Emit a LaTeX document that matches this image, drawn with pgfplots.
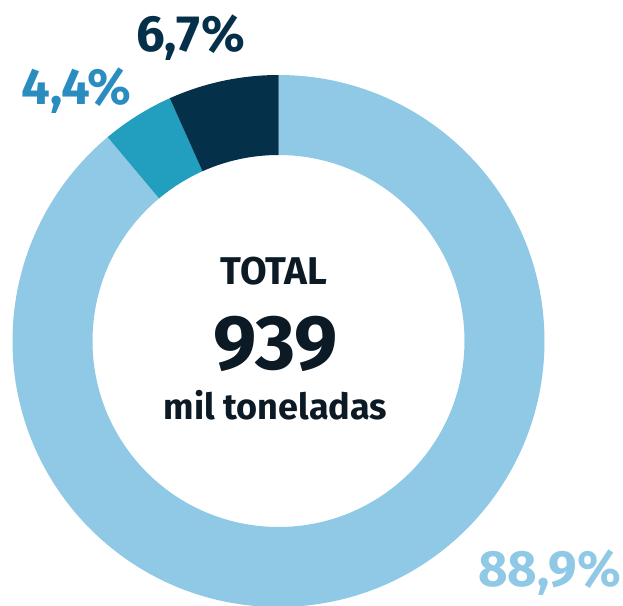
\documentclass[border=0pt]{standalone}
\usepackage{fontspec}
\setmainfont{Fira Sans}
\usepackage{pgfplots}
\pgfplotsset{compat=1.18}

\definecolor{light}{HTML}{8FC9E5}
\definecolor{mid}{HTML}{229FBE}
\definecolor{navy}{HTML}{053049}
\definecolor{midlabel}{HTML}{2B8DBF}
\definecolor{dark}{HTML}{0B1A24}

% ring geometry in picture pixels
\def\cx{278.5}
\def\cy{265}
\def\Ro{266}
\def\Ri{186}

\begin{document}
\begin{tikzpicture}
\begin{axis}[
    x=0.02cm, y=0.02cm,
    xmin=0, xmax=623, ymin=0, ymax=606,
    hide axis, clip=true,
    disabledatascaling,
]
\path[draw=none] (axis cs:0,0) rectangle (axis cs:623,606);
\def\astart{90}
% share (percent) / colour, clockwise from the top
\pgfplotsforeachungrouped \v/\c in {88.9/light, 4.4/mid, 6.7/navy} {
    \pgfmathsetmacro\aend{\astart-3.6*\v}
    \pgfmathsetmacro\xa{\cx+\Ro*cos(\astart)}
    \pgfmathsetmacro\ya{\cy+\Ro*sin(\astart)}
    \pgfmathsetmacro\xb{\cx+\Ri*cos(\aend)}
    \pgfmathsetmacro\yb{\cy+\Ri*sin(\aend)}
    \edef\temp{\noexpand\fill[\c] (axis cs:\xa,\ya)
        arc[start angle=\astart, end angle=\aend, radius=\Ro*0.02cm]
        -- (axis cs:\xb,\yb)
        arc[start angle=\aend, end angle=\astart, radius=\Ri*0.02cm] -- cycle;}
    \temp
    \global\let\astart\aend
}
\node[anchor=base, text=navy, font=\bfseries\fontsize{29}{29}\selectfont] at (axis cs:190.5,554) {6,7\%};
\node[anchor=base, text=midlabel, font=\bfseries\fontsize{29}{29}\selectfont] at (axis cs:76.5,501) {4,4\%};
\node[anchor=base, text=light, font=\bfseries\fontsize{29}{29}\selectfont] at (axis cs:549.5,19) {88,9\%};
\node[anchor=base, text=dark, font=\bfseries\fontsize{22}{22}\selectfont] at (axis cs:274,321) {TOTAL};
\node[anchor=base, text=dark, font=\bfseries\fontsize{44}{44}\selectfont] at (axis cs:275.5,236) {939};
\node[anchor=base, text=dark, font=\bfseries\fontsize{20.5}{20.5}\selectfont] at (axis cs:275.5,186) {mil toneladas};
\end{axis}
\end{tikzpicture}
\end{document}
